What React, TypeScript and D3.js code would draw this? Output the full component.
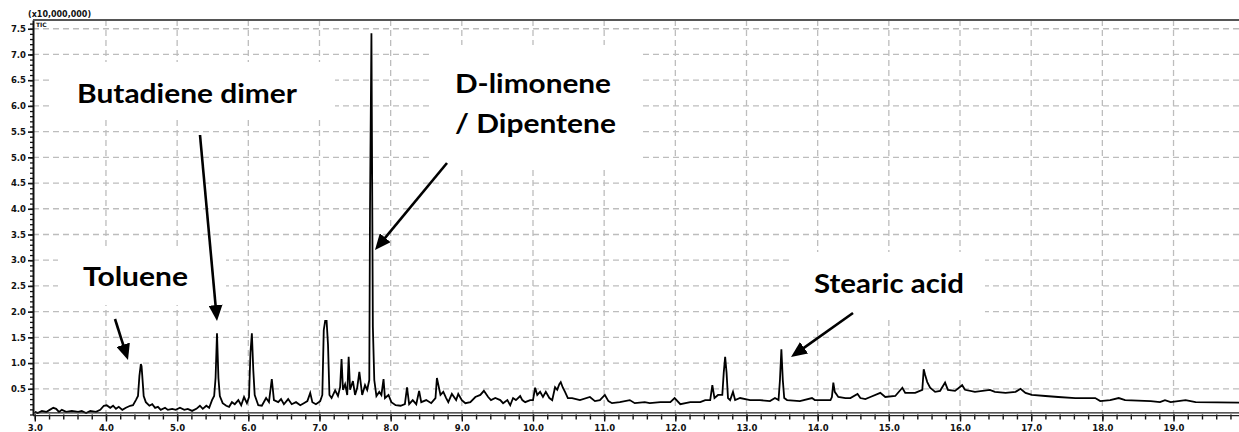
import React, { useRef, useEffect } from 'react';
import * as d3 from 'd3';

// retention time (min) and TIC intensity (x10,000,000)
const rt = [
  3.00, 3.04, 3.10, 3.16, 3.21, 3.26, 3.30, 3.34, 3.38, 3.44,
  3.52, 3.61, 3.66, 3.72, 3.78, 3.86, 3.92, 3.97, 4.01, 4.06,
  4.10, 4.14, 4.18, 4.23, 4.28, 4.34, 4.38, 4.42, 4.45, 4.47,
  4.49, 4.50, 4.51, 4.53, 4.56, 4.61, 4.65, 4.69, 4.73, 4.77,
  4.83, 4.87, 4.93, 4.98, 5.04, 5.10, 5.15, 5.21, 5.27, 5.32,
  5.36, 5.41, 5.45, 5.49, 5.52, 5.54, 5.56, 5.58, 5.60, 5.64,
  5.69, 5.73, 5.77, 5.81, 5.86, 5.90, 5.94, 5.98, 6.01, 6.03,
  6.05, 6.07, 6.09, 6.14, 6.19, 6.25, 6.29, 6.33, 6.36, 6.42,
  6.46, 6.50, 6.56, 6.61, 6.67, 6.73, 6.78, 6.83, 6.87, 6.90,
  6.95, 7.01, 7.04, 7.06, 7.08, 7.10, 7.12, 7.14, 7.17, 7.22,
  7.26, 7.29, 7.31, 7.33, 7.36, 7.39, 7.41, 7.43, 7.47, 7.50,
  7.53, 7.56, 7.60, 7.64, 7.67, 7.70, 7.71, 7.73, 7.75, 7.77,
  7.80, 7.84, 7.87, 7.90, 7.92, 7.97, 8.01, 8.07, 8.14, 8.20,
  8.23, 8.26, 8.31, 8.36, 8.40, 8.43, 8.50, 8.57, 8.63, 8.65,
  8.70, 8.74, 8.78, 8.81, 8.86, 8.92, 8.95, 9.00, 9.05, 9.12,
  9.19, 9.26, 9.31, 9.37, 9.41, 9.47, 9.54, 9.58, 9.64, 9.68,
  9.72, 9.76, 9.82, 9.85, 9.89, 9.96, 10.00, 10.03, 10.06, 10.10,
  10.14, 10.18, 10.23, 10.27, 10.31, 10.34, 10.37, 10.39, 10.42, 10.45,
  10.49, 10.55, 10.66, 10.80, 10.87, 10.94, 11.01, 11.06, 11.11, 11.22,
  11.36, 11.43, 11.57, 11.64, 11.79, 11.93, 11.99, 12.07, 12.21, 12.35,
  12.42, 12.49, 12.52, 12.55, 12.60, 12.66, 12.68, 12.70, 12.72, 12.74,
  12.77, 12.81, 12.84, 12.91, 13.05, 13.19, 13.33, 13.40, 13.45, 13.47,
  13.49, 13.51, 13.53, 13.57, 13.75, 13.92, 13.96, 14.18, 14.20, 14.22,
  14.24, 14.29, 14.39, 14.46, 14.56, 14.60, 14.67, 14.74, 14.88, 14.95,
  15.09, 15.19, 15.23, 15.37, 15.47, 15.49, 15.51, 15.54, 15.58, 15.65,
  15.72, 15.79, 15.83, 15.93, 16.03, 16.07, 16.21, 16.42, 16.49, 16.64,
  16.78, 16.85, 16.92, 17.01, 17.20, 17.38, 17.62, 17.90, 17.97, 18.11,
  18.23, 18.32, 18.68, 18.81, 18.88, 18.96, 19.17, 19.31, 19.92,
];

const tic = [
  0.05, 0.03, 0.07, 0.05, 0.09, 0.13, 0.11, 0.05, 0.09, 0.05,
  0.07, 0.05, 0.07, 0.03, 0.07, 0.05, 0.09, 0.17, 0.18, 0.13,
  0.17, 0.11, 0.15, 0.09, 0.13, 0.17, 0.18, 0.28, 0.36, 0.75,
  0.98, 0.94, 0.75, 0.36, 0.24, 0.17, 0.20, 0.13, 0.15, 0.09,
  0.13, 0.09, 0.11, 0.09, 0.13, 0.09, 0.11, 0.07, 0.11, 0.17,
  0.11, 0.17, 0.13, 0.28, 0.36, 0.71, 1.58, 0.71, 0.36, 0.22,
  0.17, 0.15, 0.24, 0.20, 0.28, 0.18, 0.34, 0.22, 0.34, 1.20,
  1.58, 0.86, 0.38, 0.18, 0.17, 0.32, 0.24, 0.69, 0.28, 0.24,
  0.30, 0.20, 0.30, 0.20, 0.24, 0.18, 0.22, 0.26, 0.42, 0.24,
  0.20, 0.26, 0.38, 1.64, 1.82, 1.82, 1.35, 0.38, 0.32, 0.47,
  0.36, 0.53, 1.08, 0.48, 0.59, 0.38, 1.12, 0.48, 0.65, 0.38,
  0.52, 0.83, 0.38, 0.57, 0.48, 0.67, 4.02, 7.41, 1.70, 0.67,
  0.36, 0.44, 0.38, 0.69, 0.32, 0.38, 0.24, 0.18, 0.17, 0.20,
  0.53, 0.20, 0.28, 0.20, 0.46, 0.24, 0.28, 0.22, 0.32, 0.71,
  0.38, 0.44, 0.32, 0.24, 0.40, 0.28, 0.40, 0.28, 0.22, 0.24,
  0.34, 0.38, 0.46, 0.34, 0.28, 0.32, 0.28, 0.22, 0.28, 0.18,
  0.32, 0.28, 0.36, 0.28, 0.24, 0.28, 0.28, 0.52, 0.38, 0.44,
  0.34, 0.44, 0.32, 0.28, 0.53, 0.48, 0.59, 0.63, 0.52, 0.44,
  0.32, 0.32, 0.28, 0.34, 0.26, 0.28, 0.38, 0.26, 0.22, 0.24,
  0.28, 0.22, 0.24, 0.22, 0.24, 0.24, 0.32, 0.20, 0.24, 0.24,
  0.28, 0.28, 0.57, 0.32, 0.38, 0.38, 0.81, 1.12, 0.81, 0.32,
  0.28, 0.44, 0.28, 0.32, 0.28, 0.28, 0.26, 0.32, 0.28, 0.67,
  1.27, 0.67, 0.32, 0.28, 0.26, 0.32, 0.28, 0.28, 0.34, 0.62,
  0.44, 0.34, 0.32, 0.32, 0.40, 0.32, 0.30, 0.34, 0.42, 0.34,
  0.36, 0.52, 0.42, 0.42, 0.48, 0.88, 0.77, 0.63, 0.52, 0.44,
  0.46, 0.62, 0.48, 0.46, 0.57, 0.48, 0.44, 0.48, 0.44, 0.42,
  0.44, 0.50, 0.42, 0.38, 0.36, 0.34, 0.32, 0.32, 0.26, 0.28,
  0.32, 0.28, 0.26, 0.24, 0.28, 0.24, 0.28, 0.24, 0.23,
];

const xMajor = d3.range(3, 20, 1);
const yMajor = d3.range(0.5, 7.51, 0.5);
const yScaleLabel = '(x10,000,000)';
const compounds = ['Toluene', 'Butadiene dimer', 'D-limonene', '/ Dipentene', 'Stearic acid'];

function App() {
  const chart = useRef<SVGSVGElement>(null);

  useEffect(() => {
    const W = 1239;
    const H = 432;
    const svg = d3.select(chart.current);
    svg.selectAll('*').remove();

    const x = d3.scaleLinear().domain([3, 19.92]).range([34.8, W]);
    const y = d3.scaleLinear().domain([0, 7.67]).range([414.5, 20]);
    const axisX = 33;
    const top = y(7.67);
    const base = y(0);

    svg.append('rect').attr('width', W).attr('height', H).attr('fill', '#fff');

    // dashed grid
    const grid = svg.append('g')
      .attr('stroke', '#bdbdbd')
      .attr('stroke-width', 1.3)
      .attr('stroke-dasharray', '6,4');
    grid.selectAll('line.h').data(yMajor).join('line')
      .attr('class', 'h')
      .attr('x1', axisX).attr('x2', W)
      .attr('y1', d => y(d)).attr('y2', d => y(d));
    grid.selectAll('line.v').data(xMajor.filter(d => d > 3)).join('line')
      .attr('class', 'v')
      .attr('x1', d => x(d)).attr('x2', d => x(d))
      .attr('y1', top).attr('y2', base);

    // white boxes behind the annotations
    const boxes = [
      [50, 62, 285, 58],
      [58, 250, 168, 55],
      [432, 45, 208, 122],
      [792, 252, 193, 68],
    ];
    svg.append('g').selectAll('rect').data(boxes).join('rect')
      .attr('x', d => d[0]).attr('y', d => d[1])
      .attr('width', d => d[2]).attr('height', d => d[3])
      .attr('fill', '#fff');

    // chromatogram trace
    const idx = d3.range(Math.min(rt.length, tic.length));
    const line = d3.line<number>()
      .x(i => x(rt[i]))
      .y(i => y(tic[i]));
    svg.append('path')
      .datum(idx)
      .attr('d', line)
      .attr('fill', 'none')
      .attr('stroke', '#000')
      .attr('stroke-width', 1.8)
      .attr('stroke-linejoin', 'miter');

    // x axis: minor ticks every 0.2 min, labels every minute
    const xMinor = d3.range(3, 19.95, 0.2).map(d => +d.toFixed(1));
    svg.append('g')
      .attr('transform', `translate(0,${base})`)
      .call(d3.axisBottom(x).tickValues(xMinor).tickSize(5).tickSizeOuter(0).tickFormat(() => ''))
      .call(g => g.select('.domain').remove())
      .call(g => g.selectAll('line').attr('stroke', '#111').attr('stroke-width', 1.4));
    svg.append('g')
      .attr('transform', `translate(0,${base})`)
      .call(d3.axisBottom(x).tickValues(xMajor).tickSize(7).tickSizeOuter(0).tickPadding(3).tickFormat(d3.format('.1f')))
      .call(g => g.select('.domain').remove())
      .call(g => g.selectAll('line').attr('stroke', '#111').attr('stroke-width', 1.4))
      .call(g => g.selectAll('text')
        .attr('font-family', 'DejaVu Sans')
        .attr('font-weight', 'bold')
        .attr('font-size', 8.5)
        .attr('fill', '#111'));
    // double axis line
    svg.append('g').attr('stroke', '#222').attr('stroke-width', 1.2)
      .selectAll('line').data([-1.6, 1.2]).join('line')
      .attr('x1', axisX).attr('x2', W)
      .attr('y1', d => base + d).attr('y2', d => base + d);

    // y axis
    const yMinor = d3.range(0, 7.65, 0.1).map(d => +d.toFixed(1));
    svg.append('g')
      .attr('transform', `translate(${axisX},0)`)
      .call(d3.axisLeft(y).tickValues(yMinor).tickSize(3).tickSizeOuter(0).tickFormat(() => ''))
      .call(g => g.selectAll('line').attr('stroke', '#111').attr('stroke-width', 1.3))
      .call(g => g.select('.domain').attr('stroke', '#111').attr('stroke-width', 2));
    svg.append('g')
      .attr('transform', `translate(${axisX},0)`)
      .call(d3.axisLeft(y).tickValues(yMajor).tickSize(5).tickSizeOuter(0).tickPadding(2).tickFormat(d3.format('.1f')))
      .call(g => g.select('.domain').remove())
      .call(g => g.selectAll('line').attr('stroke', '#111').attr('stroke-width', 1.6))
      .call(g => g.selectAll('text')
        .attr('font-family', 'DejaVu Sans')
        .attr('font-weight', 'bold')
        .attr('font-size', 8.5)
        .attr('fill', '#111'));

    // top frame line
    svg.append('line')
      .attr('x1', axisX).attr('x2', W)
      .attr('y1', top).attr('y2', top)
      .attr('stroke', '#555').attr('stroke-width', 2);

    svg.append('text')
      .attr('x', 28).attr('y', 17)
      .attr('font-family', 'DejaVu Sans').attr('font-weight', 'bold').attr('font-size', 8)
      .attr('fill', '#111')
      .text(yScaleLabel);
    svg.append('text')
      .attr('x', 36).attr('y', 27)
      .attr('font-family', 'DejaVu Sans').attr('font-weight', 'bold').attr('font-size', 6)
      .attr('fill', '#111')
      .text('TIC');

    // annotations: x, baseline, width
    const labelPos = [
      [83, 286, 105],
      [77, 103, 220],
      [455, 93, 156],
      [455, 133, 161],
      [814, 293, 150],
    ];
    svg.append('g').selectAll('text').data(compounds).join('text')
      .attr('x', (d, i) => labelPos[i][0])
      .attr('y', (d, i) => labelPos[i][1])
      .attr('textLength', (d, i) => labelPos[i][2])
      .attr('lengthAdjust', 'spacingAndGlyphs')
      .attr('font-family', 'Lato')
      .attr('font-weight', 'bold')
      .attr('font-size', 27.5)
      .attr('fill', '#000')
      .text(d => d);

    svg.append('defs').append('marker')
      .attr('id', 'head')
      .attr('markerUnits', 'userSpaceOnUse')
      .attr('viewBox', '0 0 16 14')
      .attr('markerWidth', 16).attr('markerHeight', 14)
      .attr('refX', 16).attr('refY', 7)
      .attr('orient', 'auto')
      .append('path').attr('d', 'M0,0 L16,7 L0,14 Z').attr('fill', '#000');

    const arrows = [
      [115, 319, 128, 360],
      [200, 135, 217, 321],
      [447, 163, 375, 250],
      [853, 313, 791, 357],
    ];
    svg.append('g').selectAll('g').data(arrows).join('g').each(function (d) {
      const [x1, y1, x2, y2] = d;
      const len = Math.hypot(x2 - x1, y2 - y1);
      const ux = (x2 - x1) / len;
      const uy = (y2 - y1) / len;
      const g = d3.select(this);
      g.append('line')
        .attr('x1', x1).attr('y1', y1)
        .attr('x2', x2 - ux * 8).attr('y2', y2 - uy * 8)
        .attr('stroke', '#000').attr('stroke-width', 2.6);
      g.append('line')
        .attr('x1', x2 - ux * 10).attr('y1', y2 - uy * 10)
        .attr('x2', x2).attr('y2', y2)
        .attr('stroke', 'none')
        .attr('marker-end', 'url(#head)');
    });
  }, []);

  return (
    <svg
      ref={chart}
      width={1239}
      height={432}
      style={{ position: 'absolute', left: 0, top: 0, background: '#fff' }}
    />
  );
}

export default App;
